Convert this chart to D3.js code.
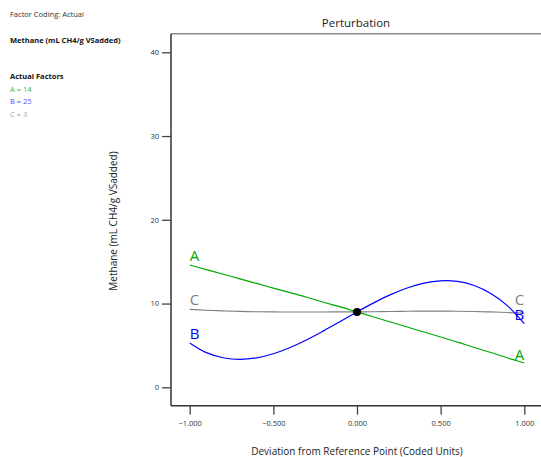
<!DOCTYPE html>
<html>
<head>
<meta charset="utf-8">
<script src="https://cdn.jsdelivr.net/npm/d3@7"></script>
<style>
  body { margin: 0; background: #fff; }
  svg { display: block; font-family: "Open Sans", "Noto Sans", sans-serif; }
</style>
</head>
<body>
<svg id="chart" width="541" height="457"></svg>
<script>
// Values
const coded = [-1, -0.9, -0.8, -0.7, -0.6, -0.5, -0.4, -0.3, -0.2, -0.1, 0, 0.1, 0.2, 0.3, 0.4, 0.5, 0.6, 0.7, 0.8, 0.9, 1];
const seriesA = [14.6, 14.05, 13.5, 12.95, 12.4, 11.85, 11.3, 10.75, 10.15, 9.6, 9.0, 8.4, 7.8, 7.2, 6.6, 6.0, 5.4, 4.75, 4.15, 3.5, 2.9];
const seriesB = [5.3, 4.14, 3.53, 3.34, 3.52, 4.01, 4.75, 5.68, 6.74, 7.86, 9.0, 10.08, 11.06, 11.86, 12.43, 12.71, 12.64, 12.16, 11.21, 9.72, 7.6];
const seriesC = [9.3, 9.2, 9.12, 9.06, 9.02, 9.0, 8.99, 8.99, 8.99, 9.0, 9.0, 9.02, 9.05, 9.08, 9.1, 9.1, 9.08, 9.05, 9.0, 8.93, 8.85];
const xTicks = [-1, -0.5, 0, 0.5, 1];
const yTicks = [0, 10, 20, 30, 40];
const factorNames = ["A", "B", "C"];
const factorValues = [14, 25, 3];
const centerValue = 9.0;

const svg = d3.select("#chart");

// plot area (right edge runs past the window, like the reference)
const plotLeft = 171, plotTop = 33.7, plotBottom = 405.7, plotRight = 543;

const x = d3.scaleLinear().domain([-1, 1]).range([189.7, 524.3]);
const y = d3.scaleLinear().domain([0, 40]).range([387.3, 52.3]);

const colors = { A: "#00a800", B: "#0000ff", C: "#808080" };
const legendColors = { A: "#3cb83c", B: "#4b4bff", C: "#a6a6a6" };

// header text on the left
svg.append("text").attr("x", 10).attr("y", 16.5)
    .attr("font-size", "7.5px").attr("fill", "#333")
    .text("Factor Coding: Actual");
svg.append("text").attr("x", 10).attr("y", 42.5)
    .attr("font-size", "7.5px").attr("font-weight", "bold").attr("fill", "#111")
    .text("Methane (mL CH4/g VSadded)");
svg.append("text").attr("x", 10).attr("y", 79)
    .attr("font-size", "7.5px").attr("font-weight", "bold").attr("fill", "#111")
    .text("Actual Factors");
factorNames.forEach((n, i) => {
    svg.append("text").attr("x", 10).attr("y", 92 + i * 12.3)
        .attr("font-size", "7.5px").attr("fill", legendColors[n])
        .text(n + " = " + factorValues[i]);
});

// title
svg.append("text").attr("x", 356).attr("y", 27)
    .attr("text-anchor", "middle").attr("font-size", "11.5px").attr("fill", "#222")
    .text("Perturbation");

// frame
svg.append("line").attr("x1", plotLeft).attr("x2", plotRight).attr("y1", plotTop).attr("y2", plotTop)
    .attr("stroke", "#8a8a8a").attr("stroke-width", 1.5);
svg.append("line").attr("x1", plotLeft).attr("x2", plotLeft).attr("y1", plotTop).attr("y2", plotBottom)
    .attr("stroke", "#333").attr("stroke-width", 1.5);
svg.append("line").attr("x1", plotLeft).attr("x2", plotRight).attr("y1", plotBottom).attr("y2", plotBottom)
    .attr("stroke", "#333").attr("stroke-width", 1.5);

// y axis ticks
const yAxis = d3.axisLeft(y).tickValues(yTicks).tickSize(9).tickPadding(3).tickFormat(d3.format("d"));
const gy = svg.append("g").attr("transform", `translate(${plotLeft},0)`).call(yAxis);
gy.select(".domain").remove();
gy.selectAll(".tick line").attr("stroke", "#444").attr("stroke-width", 1.3);
gy.selectAll(".tick text").attr("font-size", "7.5px").attr("fill", "#333")
    .attr("font-family", "'Open Sans', 'Noto Sans', sans-serif");

// x axis ticks
const xAxis = d3.axisBottom(x).tickValues(xTicks).tickSize(9).tickPadding(6).tickFormat(d3.format(".3f"));
const gx = svg.append("g").attr("transform", `translate(0,${plotBottom})`).call(xAxis);
gx.select(".domain").remove();
gx.selectAll(".tick line").attr("stroke", "#444").attr("stroke-width", 1.3);
gx.selectAll(".tick text").attr("font-size", "7.5px").attr("fill", "#333")
    .attr("font-family", "'Open Sans', 'Noto Sans', sans-serif");

// axis titles
svg.append("text").attr("x", 357).attr("y", 455)
    .attr("text-anchor", "middle").attr("font-size", "10px").attr("fill", "#222")
    .text("Deviation from Reference Point (Coded Units)");
svg.append("text")
    .attr("transform", "translate(117,221) rotate(-90)")
    .attr("text-anchor", "middle").attr("font-size", "10px").attr("fill", "#222")
    .text("Methane (mL CH4/g VSadded)");

// curves
const line = d3.line()
    .x(d => x(d[0]))
    .y(d => y(d[1]))
    .curve(d3.curveCatmullRom);

const series = { A: seriesA, B: seriesB, C: seriesC };
["C", "A", "B"].forEach(n => {
    const pts = coded.map((c, i) => [c, series[n][i]]);
    svg.append("path").datum(pts)
        .attr("fill", "none").attr("stroke", colors[n]).attr("stroke-width", 1.2)
        .attr("d", line);
});

// curve labels at both ends (right C lifted a little so it clears B)
factorNames.forEach(n => {
    const vals = series[n];
    svg.append("text").attr("x", x(-1)).attr("y", y(vals[0]) - 4)
        .attr("font-size", "15px").attr("fill", colors[n])
        .text(n);
    svg.append("text").attr("x", x(1)).attr("y", y(vals[vals.length - 1]) - (n === "C" ? 8 : 3.5))
        .attr("text-anchor", "end").attr("font-size", "15px").attr("fill", colors[n])
        .text(n);
});

// reference point
svg.append("circle").attr("cx", x(0)).attr("cy", y(centerValue)).attr("r", 4).attr("fill", "#000");
</script>
</body>
</html>
